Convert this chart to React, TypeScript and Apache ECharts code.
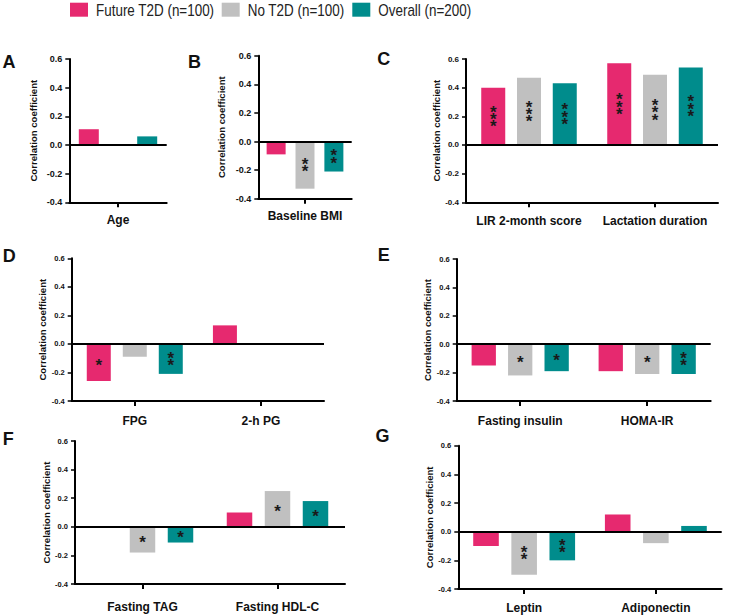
import React, { useEffect, useRef } from 'react';
import * as echarts from 'echarts';

const seriesNames = ['Future T2D (n=100)', 'No T2D (n=100)', 'Overall (n=200)'];
const seriesColors = ['#E6296F', '#C0C0C0', '#008C8C'];
const yTicks = { min: -0.4, max: 0.6, interval: 0.2 };

// Panel A
const categoriesA = ['Age'];
const futureA = [0.11];
const noT2dA = [0.0];
const overallA = [0.06];
const sigA = [[''], [''], ['']];
// Panel B
const categoriesB = ['Baseline BMI'];
const futureB = [-0.09];
const noT2dB = [-0.33];
const overallB = [-0.21];
const sigB = [[''], ['**'], ['**']];
// Panel C
const categoriesC = ['LIR 2-month score', 'Lactation duration'];
const futureC = [0.4, 0.57];
const noT2dC = [0.47, 0.49];
const overallC = [0.43, 0.54];
const sigC = [['***', '***'], ['***', '***'], ['***', '***']];
// Panel D
const categoriesD = ['FPG', '2-h PG'];
const futureD = [-0.26, 0.13];
const noT2dD = [-0.09, 0.0];
const overallD = [-0.21, 0.0];
const sigD = [['*', ''], ['', ''], ['**', '']];
// Panel E
const categoriesE = ['Fasting insulin', 'HOMA-IR'];
const futureE = [-0.15, -0.19];
const noT2dE = [-0.22, -0.21];
const overallE = [-0.19, -0.21];
const sigE = [['', ''], ['*', '*'], ['*', '**']];
// Panel F
const categoriesF = ['Fasting TAG', 'Fasting HDL-C'];
const futureF = [0.0, 0.1];
const noT2dF = [-0.18, 0.25];
const overallF = [-0.11, 0.18];
const sigF = [['', ''], ['*', '*'], ['*', '*']];
// Panel G
const categoriesG = ['Leptin', 'Adiponectin'];
const futureG = [-0.1, 0.12];
const noT2dG = [-0.3, -0.08];
const overallG = [-0.2, 0.04];
const sigG = [['', ''], ['**', ''], ['**', '']];

const panelData = [
  { letter: 'A', cats: categoriesA, values: [futureA, noT2dA, overallA], sig: sigA },
  { letter: 'B', cats: categoriesB, values: [futureB, noT2dB, overallB], sig: sigB },
  { letter: 'C', cats: categoriesC, values: [futureC, noT2dC, overallC], sig: sigC },
  { letter: 'D', cats: categoriesD, values: [futureD, noT2dD, overallD], sig: sigD },
  { letter: 'E', cats: categoriesE, values: [futureE, noT2dE, overallE], sig: sigE },
  { letter: 'F', cats: categoriesF, values: [futureF, noT2dF, overallF], sig: sigF },
  { letter: 'G', cats: categoriesG, values: [futureG, noT2dG, overallG], sig: sigG },
];

// layout (positions / sizes)
const panelLayout = [
  { left: 69.3, top: 59, width: 97.4, height: 143.3, barWidth: 20, barGap: '46%', tickFont: 9, nameGap: 31, xMargin: 12, lx: 9, ly: 62 },
  { left: 258.3, top: 55.7, width: 93.4, height: 143, barWidth: 19, barGap: '52%', tickFont: 9, nameGap: 31.6, xMargin: 11.5, lx: 194.5, ly: 62 },
  { left: 466, top: 59, width: 252, height: 143.3, barWidth: 24, barGap: '49%', tickFont: 8, nameGap: 24.3, xMargin: 12.5, lx: 383.8, ly: 59 },
  { left: 71.7, top: 258.3, width: 252.3, height: 142.7, barWidth: 24, barGap: '50%', tickFont: 7.5, nameGap: 21.7, xMargin: 14, lx: 9.3, ly: 256.3 },
  { left: 456.7, top: 259, width: 254, height: 142, barWidth: 24.3, barGap: '50%', tickFont: 7.5, nameGap: 23.4, xMargin: 14, lx: 383.7, ly: 255 },
  { left: 75, top: 441, width: 270, height: 143, barWidth: 25.5, barGap: '49%', tickFont: 7.5, nameGap: 22.3, xMargin: 17, lx: 8.3, ly: 439 },
  { left: 458.3, top: 445.7, width: 263.4, height: 143.3, barWidth: 25.6, barGap: '49%', tickFont: 7.5, nameGap: 21.6, xMargin: 12.5, lx: 382.5, ly: 436 },
];

const legendLeft = [70, 221.7, 352.3];

const FONT = '"Liberation Sans", Arial, Helvetica, sans-serif';

export default function App() {
  const ref = useRef<HTMLDivElement>(null);
  useEffect(() => {
    if (!ref.current) return;
    const chart = echarts.init(ref.current, undefined, { renderer: 'svg' });

    const grid: any[] = [];
    const xAxis: any[] = [];
    const yAxis: any[] = [];
    const series: any[] = [];
    const graphic: any[] = [];

    panelData.forEach((p, i) => {
      const L = panelLayout[i];
      grid.push({ left: L.left, top: L.top, width: L.width, height: L.height, containLabel: false });
      xAxis.push({
        type: 'category',
        gridIndex: i,
        data: p.cats,
        axisLine: { show: true, onZero: false, lineStyle: { color: '#000', width: 2 } },
        axisTick: { show: true, alignWithLabel: true, length: 5, lineStyle: { color: '#000', width: 2 } },
        axisLabel: { interval: 0, color: '#111', fontWeight: 'bold', fontSize: 12, fontFamily: FONT, margin: L.xMargin },
        splitLine: { show: false },
      });
      yAxis.push({
        type: 'value',
        gridIndex: i,
        min: yTicks.min,
        max: yTicks.max,
        interval: yTicks.interval,
        name: 'Correlation coefficient',
        nameLocation: 'middle',
        nameGap: L.nameGap,
        nameTextStyle: { color: '#111', fontWeight: 'bold', fontSize: 9.6, fontFamily: FONT },
        axisLine: { show: true, lineStyle: { color: '#000', width: 2 } },
        axisTick: { show: true, length: 4, lineStyle: { color: '#000', width: 1.5 } },
        axisLabel: {
          color: '#111',
          fontWeight: 'bold',
          fontSize: L.tickFont,
          fontFamily: FONT,
          margin: 7,
          formatter: (v: number) => v.toFixed(1),
        },
        splitLine: { show: false },
      });
      p.values.forEach((vals, s) => {
        series.push({
          type: 'bar',
          name: seriesNames[s],
          xAxisIndex: i,
          yAxisIndex: i,
          barWidth: L.barWidth,
          barGap: L.barGap,
          itemStyle: { color: seriesColors[s] },
          data: vals.map((v, k) => {
            const sg = p.sig[s][k];
            return {
              value: v,
              label: {
                show: !!sg,
                position: 'inside',
                formatter: sg.split('').join('\n'),
                color: '#1a1a1a',
                fontSize: 17,
                fontWeight: 'bold',
                lineHeight: 7.3,
                fontFamily: FONT,
                offset: [0, 3],
              },
            };
          }),
          markLine:
            s === 0
              ? {
                  silent: true,
                  symbol: 'none',
                  label: { show: false },
                  lineStyle: { color: '#000', width: 2, type: 'solid' },
                  data: [{ yAxis: 0 }],
                }
              : undefined,
        });
      });
      graphic.push({
        type: 'text',
        x: L.lx,
        y: L.ly,
        style: {
          text: p.letter,
          font: `bold 18px ${FONT}`,
          fill: '#111',
          align: 'center',
          verticalAlign: 'middle',
        },
      });
    });

    // legend drawn as graphic (narrow text via horizontal scaling)
    seriesNames.forEach((n, s) => {
      graphic.push({
        type: 'rect',
        shape: { x: legendLeft[s], y: 2.7, width: 18, height: 14 },
        style: { fill: seriesColors[s] },
      });
      graphic.push({
        type: 'text',
        x: legendLeft[s] + 26,
        y: 11,
        scaleX: 0.84,
        style: {
          text: n,
          font: `16px ${FONT}`,
          fill: '#222',
          align: 'left',
          verticalAlign: 'middle',
        },
      });
    });

    chart.setOption({
      animation: false,
      backgroundColor: '#fff',
      grid,
      xAxis,
      yAxis,
      series,
      graphic,
    });
    return () => chart.dispose();
  }, []);
  return <div ref={ref} style={{ position: 'absolute', left: 0, top: 0, width: 729, height: 616 }} />;
}
